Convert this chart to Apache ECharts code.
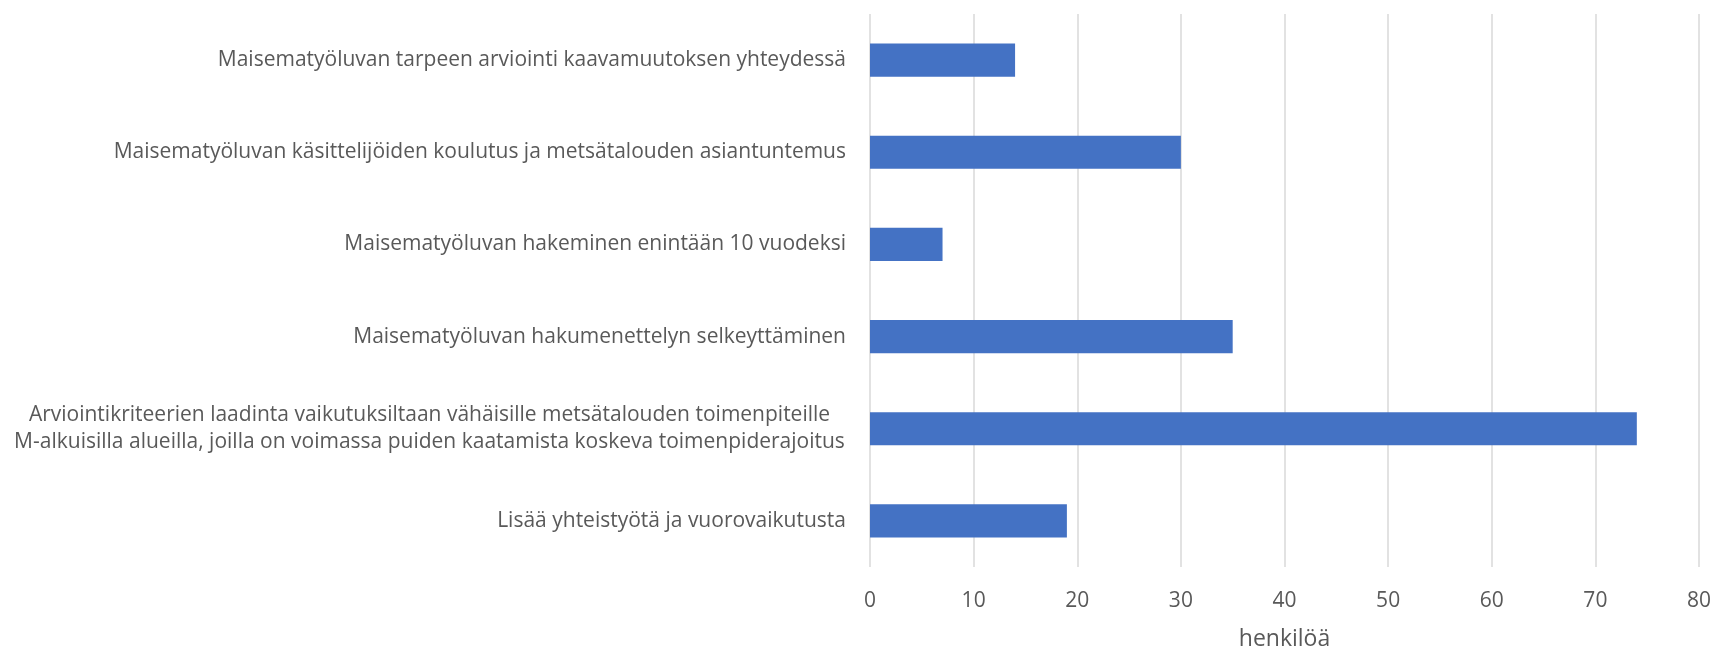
<!DOCTYPE html>
<html>
<head>
<meta charset="utf-8">
<script src="https://cdn.jsdelivr.net/npm/echarts@6/dist/echarts.min.js"></script>
<style>
html,body{margin:0;padding:0;background:#fff;}
#chart{width:1713px;height:650px;}
</style>
</head>
<body>
<div id="chart"></div>
<script>
const categories = [
  "Maisematyöluvan tarpeen arviointi kaavamuutoksen yhteydessä",
  "Maisematyöluvan käsittelijöiden koulutus ja metsätalouden asiantuntemus",
  "Maisematyöluvan hakeminen enintään 10 vuodeksi",
  "Maisematyöluvan hakumenettelyn selkeyttäminen",
  "Arviointikriteerien laadinta vaikutuksiltaan vähäisille metsätalouden toimenpiteille\nM-alkuisilla alueilla, joilla on voimassa puiden kaatamista koskeva toimenpiderajoitus",
  "Lisää yhteistyötä ja vuorovaikutusta"
];
const values = [14, 30, 7, 35, 74, 19];
const xTicks = [0, 10, 20, 30, 40, 50, 60, 70, 80];
const axisName = "henkilöä";

const font = "'Open Sans', sans-serif";
const labelSize = 21;

// measure widths of multi-line label lines so they can be centred within a common box
const ctx = document.createElement('canvas').getContext('2d');
ctx.font = labelSize + "px 'Open Sans'";
let maxW = 0;
categories.forEach(c => c.split('\n').forEach(s => { maxW = Math.max(maxW, ctx.measureText(s).width); }));

const chart = echarts.init(document.getElementById('chart'), null, {renderer: 'canvas'});
chart.setOption({
  animation: false,
  grid: {left: 870, right: 14, top: 14, bottom: 83, containLabel: false, outerBoundsMode: 'none'},
  xAxis: {
    type: 'value',
    min: xTicks[0],
    max: xTicks[xTicks.length - 1],
    interval: 10,
    name: axisName,
    nameLocation: 'middle',
    nameGap: 61,
    nameTextStyle: {color: '#595959', fontSize: 23, fontFamily: font},
    axisLine: {show: false},
    axisTick: {show: false},
    axisLabel: {color: '#595959', fontSize: 21, fontFamily: font, margin: 24},
    splitLine: {show: true, lineStyle: {color: '#d9d9d9', width: 1.5}}
  },
  yAxis: {
    type: 'category',
    data: categories,
    inverse: true,
    axisLine: {show: false},
    axisTick: {show: false},
    axisLabel: {
      color: '#595959', fontSize: labelSize, fontFamily: font, margin: 24, lineHeight: 27,
      formatter: v => v.indexOf('\n') >= 0 ? v.split('\n').map(s => '{c|' + s + '}').join('\n') : v,
      rich: {c: {width: Math.ceil(maxW) + 2, align: 'center', color: '#595959', fontSize: labelSize, fontFamily: font, lineHeight: 27}}
    }
  },
  series: [{
    type: 'bar',
    data: values,
    barWidth: '36%',
    itemStyle: {color: '#4472C4'}
  }]
});
</script>
</body>
</html>
